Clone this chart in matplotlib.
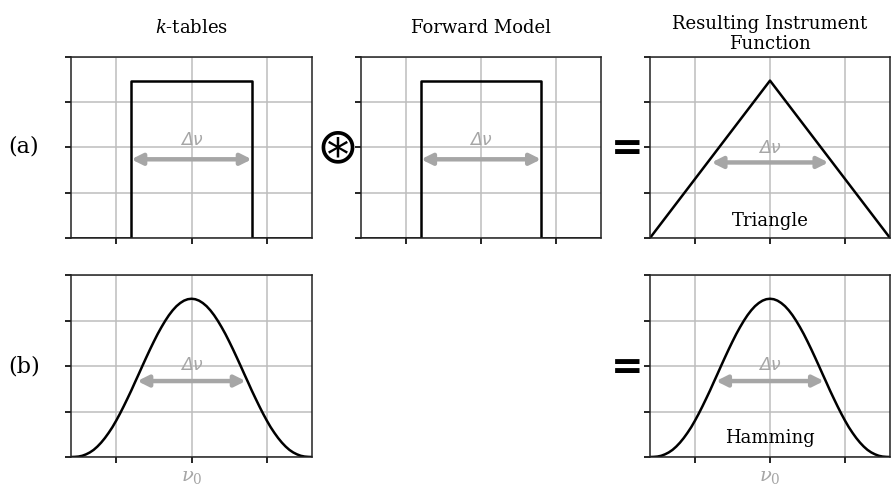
import matplotlib
matplotlib.use("Agg")
import matplotlib.pyplot as plt

plt.rcParams['font.family'] = ['DejaVu Serif']
plt.rcParams['mathtext.fontset'] = 'dejavuserif'

# frequency axis (relative to nu_0)
x_lim = (-1.6, 1.6)
y_lim = (0, 1.15)
x_ticks = [-1, 0, 1]
y_ticks = [0, 0.2875, 0.575, 0.8625, 1.15]

# boxcar (k-tables and forward model)
box_x = [-1.6, -0.8, -0.8, 0.8, 0.8, 1.6]
box_y = [0, 0, 1, 1, 0, 0]

# triangle (resulting instrument function)
tri_x = [-1.6, 0, 1.6]
tri_y = [0, 1, 0]

# Hamming-like bell
bell_x = [-1.6, -1.55, -1.5, -1.45, -1.4, -1.35, -1.3, -1.25, -1.2, -1.15,
          -1.1, -1.05, -1.0, -0.95, -0.9, -0.85, -0.8, -0.75, -0.7, -0.65,
          -0.6, -0.55, -0.5, -0.45, -0.4, -0.35, -0.3, -0.25, -0.2, -0.15,
          -0.1, -0.05, 0.0, 0.05, 0.1, 0.15, 0.2, 0.25, 0.3, 0.35, 0.4, 0.45,
          0.5, 0.55, 0.6, 0.65, 0.7, 0.75, 0.8, 0.85, 0.9, 0.95, 1.0, 1.05,
          1.1, 1.15, 1.2, 1.25, 1.3, 1.35, 1.4, 1.45, 1.5, 1.55, 1.6]
bell_y = [0.0, 0.001, 0.003, 0.008, 0.017, 0.029, 0.045, 0.066, 0.091, 0.12,
          0.153, 0.189, 0.23, 0.274, 0.321, 0.37, 0.42, 0.473, 0.525, 0.578,
          0.63, 0.681, 0.73, 0.777, 0.82, 0.86, 0.896, 0.927, 0.953, 0.973,
          0.988, 0.997, 1.0, 0.997, 0.988, 0.973, 0.953, 0.927, 0.896, 0.86,
          0.82, 0.777, 0.73, 0.681, 0.63, 0.578, 0.525, 0.473, 0.42, 0.37,
          0.321, 0.274, 0.23, 0.189, 0.153, 0.12, 0.091, 0.066, 0.045, 0.029,
          0.017, 0.008, 0.003, 0.001, 0.0]

titles = ['$k$-tables', 'Forward Model', 'Resulting Instrument\nFunction']
row_labels = ['(a)', '(b)']

grey = '#a6a6a6'

fig = plt.figure(figsize=(8.91, 4.91), dpi=100)

lefts = [0.0797, 0.4052, 0.7295]
widths = [0.2705, 0.2694, 0.2694]
bottoms = [0.5153, 0.0692]
heights = [0.3686, 0.3707]


def make_ax(col, row):
    ax = fig.add_axes([lefts[col], bottoms[row], widths[col], heights[row]])
    ax.set_xlim(x_lim)
    ax.set_ylim(y_lim)
    ax.set_xticks(x_ticks)
    ax.set_yticks(y_ticks)
    ax.set_yticklabels([])
    if row == 0:
        ax.set_xticklabels([])
    else:
        ax.set_xticklabels(['', r'$\nu_0$', ''], color=grey, fontsize=14)
    ax.grid(True, color='#bdbdbd', lw=1.1)
    ax.set_axisbelow(True)
    ax.tick_params(length=4, width=1.2, direction='out', pad=4)
    for s in ax.spines.values():
        s.set_color('#222222')
        s.set_linewidth(1.1)
    return ax


def arrow(ax, half, y, ty):
    ax.annotate('', xy=(half, y), xytext=(-half, y),
                arrowprops=dict(arrowstyle='<|-|>', color=grey, lw=3.2,
                                mutation_scale=16, shrinkA=0, shrinkB=0))
    ax.text(0, ty, '\u0394\u03bd', color=grey, fontsize=12.5, style='italic',
            family='DejaVu Sans', ha='center', va='center')


# row (a)
ax = make_ax(0, 0)
ax.plot(box_x, box_y, color='black', lw=1.8)
arrow(ax, 0.8, 0.5, 0.62)
ax.set_title(titles[0], fontsize=13, pad=17)

ax = make_ax(1, 0)
ax.plot(box_x, box_y, color='black', lw=1.8)
arrow(ax, 0.8, 0.5, 0.62)
ax.set_title(titles[1], fontsize=13, pad=17)

ax = make_ax(2, 0)
ax.plot(tri_x, tri_y, color='black', lw=1.8)
arrow(ax, 0.78, 0.48, 0.57)
ax.set_title(titles[2], fontsize=13, pad=6, linespacing=1.1)
ax.text(0, 0.11, 'Triangle', fontsize=13, ha='center', va='center')

# row (b)
ax = make_ax(0, 1)
ax.plot(bell_x, bell_y, color='black', lw=1.8)
arrow(ax, 0.72, 0.48, 0.58)

ax = make_ax(2, 1)
ax.plot(bell_x, bell_y, color='black', lw=1.8)
arrow(ax, 0.72, 0.48, 0.58)
ax.text(0, 0.12, 'Hamming', fontsize=13, ha='center', va='center')

# row labels and operators
fig.text(0.027, 1 - 147 / 491, row_labels[0], fontsize=16, ha='center', va='center')
fig.text(0.027, 1 - 367 / 491, row_labels[1], fontsize=16, ha='center', va='center')
fig.text(337 / 891, 1 - 148 / 491, '\u229b', fontsize=36, ha='center', va='center',
         family='DejaVu Sans')
fig.text(627 / 891, 1 - 149 / 491, '=', fontsize=28, ha='center', va='center',
         family='DejaVu Sans', fontweight='bold')
fig.text(627 / 891, 1 - 368 / 491, '=', fontsize=28, ha='center', va='center',
         family='DejaVu Sans', fontweight='bold')

fig.savefig('out.png', dpi=100)
